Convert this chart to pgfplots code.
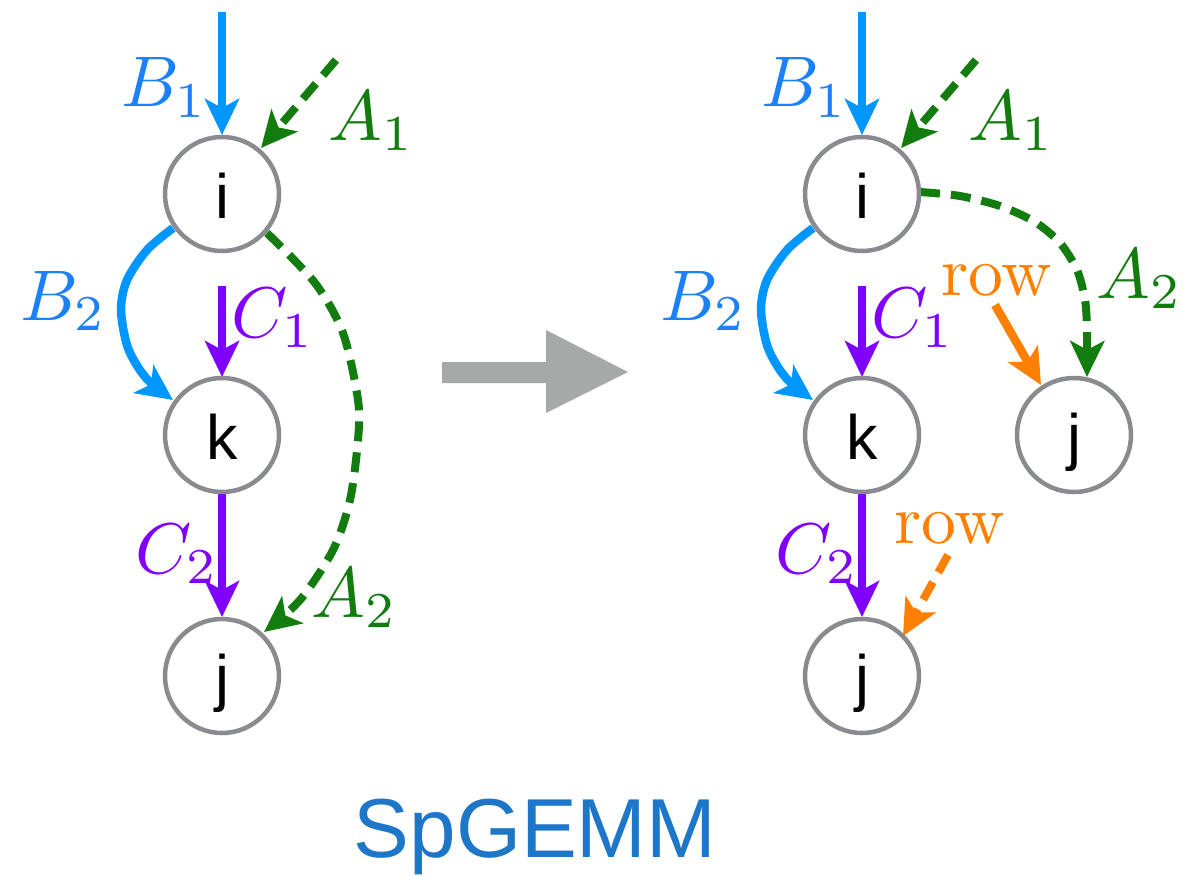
\documentclass[border=0pt]{standalone}
\usepackage{fontspec}
\usepackage{pgfplots}
\pgfplotsset{compat=1.18}
\usetikzlibrary{arrows.meta}
\newfontfamily\hsans{Liberation Sans}
\definecolor{barrow}{RGB}{0,150,255}
\definecolor{blabel}{RGB}{28,128,248}
\definecolor{ggreen}{RGB}{18,124,14}
\definecolor{ppurple}{RGB}{128,0,255}
\definecolor{oorange}{RGB}{255,128,0}
\definecolor{circgray}{RGB}{137,139,143}
\definecolor{arrowgray}{RGB}{166,169,168}
\definecolor{titleblue}{RGB}{30,118,200}
\tikzset{
  solidarrow/.style={line width=8.5bp,-{Stealth[length=36bp,width=34bp,inset=9bp]}},
  dasharrow/.style={line width=8bp,dash pattern=on 20bp off 11bp,-{Stealth[length=36bp,width=34bp,inset=9bp]}},
  lab/.style={anchor=base west,scale=7.2,inner sep=0pt},
  nd/.style={anchor=base,scale=6.3,inner sep=0pt,font=\hsans}}
\begin{document}
\begin{tikzpicture}
\begin{axis}[width=1184bp,height=876bp,scale only axis,
  xmin=0,xmax=1184,ymin=0,ymax=876,y dir=reverse,hide axis,clip=false]
\addplot[draw=none] coordinates {(0,0) (1184,876)};
% nodes
\addplot[only marks, mark=o, mark size=57bp, mark options={draw=circgray, fill=none, line width=4.5bp}]
  coordinates {(222,194) (222,435) (222,676) (862,194) (862,435) (862,676) (1074,435)};
% ---- left graph
\addplot[solidarrow,barrow] coordinates {(222,12) (222,135)};
\addplot[dasharrow,ggreen] coordinates {(336,60) (261,148)};
\addplot[solidarrow,barrow,smooth] coordinates {(173,228) (147,250) (127,280) (121,310) (128,348) (146,378) (173,400)};
\addplot[solidarrow,ppurple] coordinates {(222,286) (222,377)};
\addplot[solidarrow,ppurple] coordinates {(222,493) (222,617)};
\addplot[dasharrow,ggreen,smooth] coordinates {(267,233) (315,283) (343,333) (358,400) (358,440) (350,500) (333,550) (300,600) (264,632)};
% ---- right graph
\addplot[solidarrow,barrow] coordinates {(862,12) (862,135)};
\addplot[dasharrow,ggreen] coordinates {(976,60) (901,148)};
\addplot[solidarrow,barrow,smooth] coordinates {(813,228) (787,250) (767,280) (761,310) (768,348) (786,378) (813,400)};
\addplot[solidarrow,ppurple] coordinates {(862,286) (862,377)};
\addplot[solidarrow,ppurple] coordinates {(862,493) (862,617)};
\addplot[dasharrow,ggreen,smooth] coordinates {(920,192) (960,196) (1000,206) (1035,222) (1060,243) (1077,270) (1085,300) (1087,330) (1087,377)};
\addplot[solidarrow,oorange] coordinates {(995,305) (1041,385)};
\addplot[dasharrow,oorange] coordinates {(948,555) (903,636)};
% big arrow
\addplot[fill=arrowgray,draw=none] coordinates {(442,362) (546,362) (546,330) (628,372) (546,413) (546,383) (442,383) (442,362)};
% node letters
\node[nd] at (axis cs:222,218) {i};
\node[nd] at (axis cs:222,459) {k};
\node[nd] at (axis cs:222,699) {j};
\node[nd] at (axis cs:862,218) {i};
\node[nd] at (axis cs:862,459) {k};
\node[nd] at (axis cs:862,699) {j};
\node[nd] at (axis cs:1074,458) {j};
% labels left
\node[lab,text=blabel] at (axis cs:120,107) {$B_1$};
\node[lab,text=ggreen] at (axis cs:327,140) {$A_1$};
\node[lab,text=blabel] at (axis cs:19,320) {$B_2$};
\node[lab,text=ppurple] at (axis cs:230,337) {$C_1$};
\node[lab,text=ppurple] at (axis cs:134,573) {$C_2$};
\node[lab,text=ggreen] at (axis cs:310,617) {$A_2$};
% labels right
\node[lab,text=blabel] at (axis cs:760,107) {$B_1$};
\node[lab,text=ggreen] at (axis cs:967,140) {$A_1$};
\node[lab,text=blabel] at (axis cs:659,320) {$B_2$};
\node[lab,text=ppurple] at (axis cs:870,337) {$C_1$};
\node[lab,text=ppurple] at (axis cs:774,573) {$C_2$};
\node[lab,text=ggreen] at (axis cs:1095,298) {$A_2$};
\node[anchor=base west,scale=7.0,inner sep=0pt,text=oorange] at (axis cs:940,295) {row};
\node[anchor=base west,scale=7.0,inner sep=0pt,text=oorange] at (axis cs:893,543) {row};
% title
\node[anchor=base,scale=8.4,inner sep=0pt,text=titleblue,font=\hsans] at (axis cs:535,857) {SpGEMM};
\end{axis}
\end{tikzpicture}
\end{document}
